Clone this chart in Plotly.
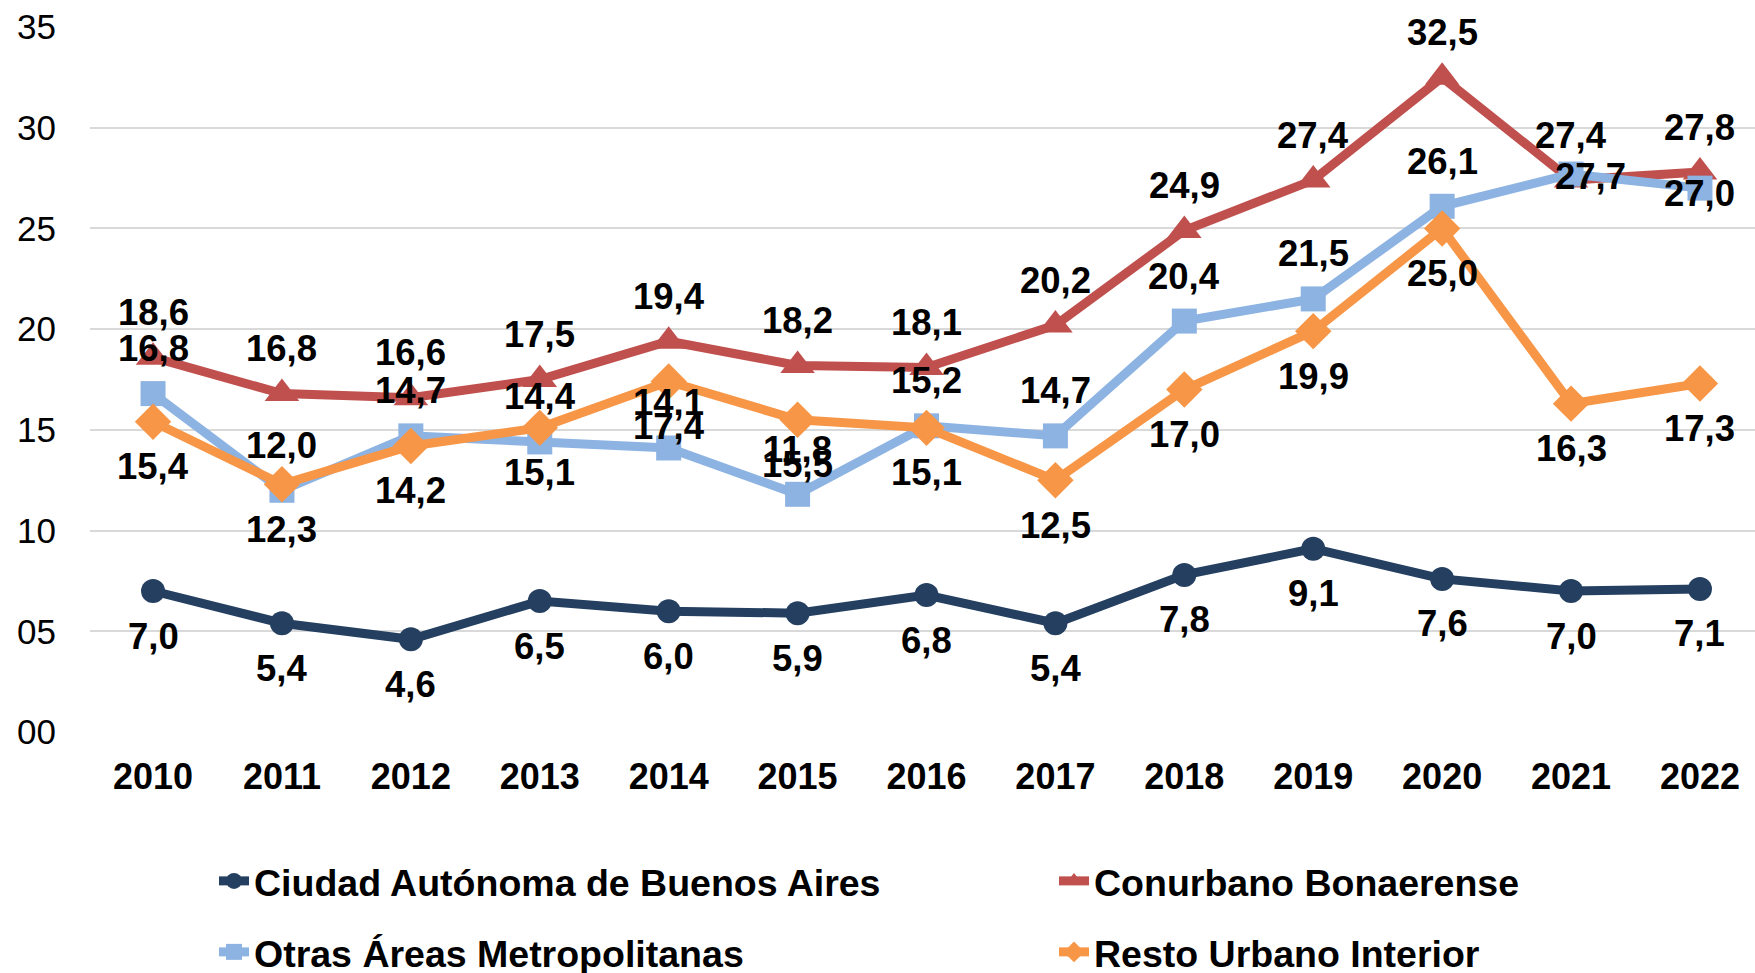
import plotly.graph_objects as go

years = ["2010", "2011", "2012", "2013", "2014", "2015", "2016",
         "2017", "2018", "2019", "2020", "2021", "2022"]

caba = [7.0, 5.4, 4.6, 6.5, 6.0, 5.9, 6.8, 5.4, 7.8, 9.1, 7.6, 7.0, 7.1]
conurbano = [18.6, 16.8, 16.6, 17.5, 19.4, 18.2, 18.1, 20.2, 24.9, 27.4, 32.5, 27.4, 27.8]
otras = [16.8, 12.0, 14.7, 14.4, 14.1, 11.8, 15.2, 14.7, 20.4, 21.5, 26.1, 27.7, 27.0]
resto = [15.4, 12.3, 14.2, 15.1, 17.4, 15.5, 15.1, 12.5, 17.0, 19.9, 25.0, 16.3, 17.3]

series_names = ["Ciudad Autónoma de Buenos Aires", "Conurbano Bonaerense",
                "Otras Áreas Metropolitanas", "Resto Urbano Interior"]
series_values = [caba, conurbano, otras, resto]

y_ticks = [0, 5, 10, 15, 20, 25, 30, 35]
y_ticktext = ["00", "05", "10", "15", "20", "25", "30", "35"]

# styles
colors = ["#243F60", "#C0504D", "#8DB3E2", "#F79646"]
symbols = ["circle", "triangle-up", "square", "diamond"]
msizes = [24, 30, 25, 28]
label_shift = [-45, 45, 45, -45]
# per-point label overrides (series index, year index) -> (xshift, yshift)
label_override = {(2, 11): (19, -2), (2, 12): (0, -5)}

FONT = "Liberation Sans, Arial, sans-serif"

W, H = 1755, 973
ml, mr, mt, mb = 90, 0, 27, 241
pw = W - ml - mr
ph = H - mt - mb

fig = go.Figure()
legend_ids = ["legend", "legend2", "legend3", "legend4"]
for i, (name, vals) in enumerate(zip(series_names, series_values)):
    fig.add_trace(go.Scatter(
        x=years, y=vals, name=name, mode="lines+markers",
        line=dict(color=colors[i], width=9),
        marker=dict(symbol=symbols[i], size=msizes[i], color=colors[i]),
        legend=legend_ids[i], showlegend=True, hoverinfo="x+y+name",
    ))

annotations = []
for i, vals in enumerate(series_values):
    for j, v in enumerate(vals):
        xs, ys = label_override.get((i, j), (0, label_shift[i]))
        annotations.append(dict(
            x=j, y=v, xref="x", yref="y",
            text=f"{v:.1f}".replace(".", ","),
            showarrow=False, xshift=xs, yshift=ys,
            font=dict(family=FONT, size=36.5, color="#000000", weight="bold"),
        ))

# legend positions (pixel) -> paper coords
leg_px = [(214, 881), (1054, 881), (214, 952), (1054, 952)]
legend_layouts = {}
for lid, (px, py) in zip(legend_ids, leg_px):
    legend_layouts[lid] = dict(
        x=(px - ml) / pw, y=-(py - (mt + ph)) / ph,
        xanchor="left", yanchor="middle", orientation="h",
        font=dict(family=FONT, size=37.5, color="#000000", weight="bold"),
        bgcolor="rgba(0,0,0,0)", borderwidth=0, itemwidth=30,
        visible=True,
    )

fig.update_layout(
    width=W, height=H, showlegend=True,
    margin=dict(l=ml, r=mr, t=mt, b=mb, pad=0, autoexpand=False),
    paper_bgcolor="white", plot_bgcolor="white",
    annotations=annotations,
    font=dict(family=FONT, color="#000000"),
    **legend_layouts,
)

fig.update_xaxes(
    type="category", range=[-0.489, 12.427],
    showgrid=False, zeroline=False, showline=False,
    ticks="", ticklabelstandoff=20,
    tickfont=dict(family=FONT, size=36, color="#000000", weight="bold"),
)
fig.update_yaxes(
    range=[0, 35], tickvals=y_ticks, ticktext=y_ticktext,
    showgrid=True, gridcolor="#D9D9D9", gridwidth=2,
    zeroline=False, showline=False, ticks="", ticklabelstandoff=33,
    tickfont=dict(family=FONT, size=35, color="#000000"),
)

fig.write_html(
    "out.html",
    config={"displayModeBar": False},
    post_script="document.body.style.margin='0';document.body.style.overflow='hidden';",
)
